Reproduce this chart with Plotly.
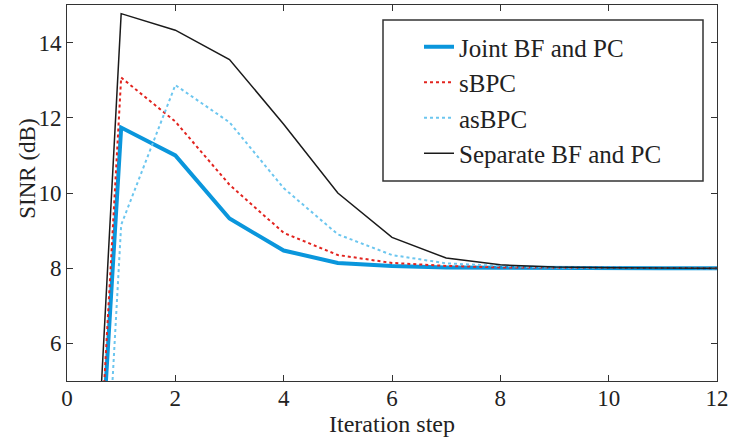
import plotly.graph_objects as go

iters = [0, 1, 2, 3, 4, 5, 6, 7, 8, 9, 10, 11, 12]
joint = [-12.2, 11.74, 11.0, 9.32, 8.47, 8.14, 8.06, 8.02, 8.01, 8.0, 8.0, 8.0, 8.0]
sbpc = [-12.9, 13.07, 11.9, 10.22, 8.94, 8.35, 8.14, 8.06, 8.02, 8.01, 8.0, 8.0, 8.0]
asbpc = [-16.8, 9.15, 12.87, 11.88, 10.13, 8.9, 8.35, 8.13, 8.06, 8.02, 8.01, 8.0, 8.0]
separate = [-12.3, 14.77, 14.33, 13.55, 11.83, 10.0, 8.82, 8.27, 8.09, 8.03, 8.01, 8.0, 8.0]

names = ["Joint BF and PC", "sBPC", "asBPC", "Separate BF and PC"]
x_ticks = [0, 2, 4, 6, 8, 10, 12]
y_ticks = [6, 8, 10, 12, 14]

FONT = "Liberation Serif, Times New Roman, serif"

fig = go.Figure()
styles = [
    (joint, dict(color="#0A96DC", width=4, dash="solid")),
    (sbpc, dict(color="#E2241F", width=2, dash="dot")),
    (asbpc, dict(color="#6CC6EF", width=2, dash="dot")),
    (separate, dict(color="#1A1A1A", width=1.5, dash="solid")),
]
for i, (ys, ln) in enumerate(styles):
    fig.add_trace(go.Scatter(x=iters, y=ys, mode="lines", name=names[i],
                             line=ln, legendgroup=f"g{i}"))

axis_common = dict(showline=True, linecolor="#333333", linewidth=1, mirror="ticks",
                   ticks="inside", ticklen=6, tickcolor="#333333", showgrid=False,
                   zeroline=False, ticklabelposition="outside", automargin=False,
                   tickfont=dict(family=FONT, size=23, color="#222222"))

fig.update_xaxes(range=[0, 12], tickvals=x_ticks, **axis_common, ticklabelstandoff=-4,
                 title=dict(text="Iteration step", font=dict(family=FONT, size=24, color="#222222"),
                            standoff=0))
fig.update_yaxes(range=[5, 15], tickvals=y_ticks, **axis_common, ticklabelstandoff=0)

fig.add_annotation(text="SINR (dB)", textangle=-90, xref="paper", yref="paper",
                   x=-0.062, y=(381 - 169) / 376, xanchor="center", yanchor="middle",
                   showarrow=False, font=dict(family=FONT, size=23, color="#222222"))

fig.add_shape(type="rect", xref="paper", yref="paper",
              x0=(383 - 67) / 650, x1=(703 - 67) / 650,
              y0=(381 - 181) / 376, y1=(381 - 20) / 376,
              line=dict(color="#333333", width=1.5), fillcolor="white", layer="above")

fig.update_layout(
    width=730, height=441,
    font=dict(family=FONT),
    margin=dict(l=67, r=13, t=5, b=60, autoexpand=False),
    paper_bgcolor="white", plot_bgcolor="white",
    showlegend=True,
    legend=dict(x=(419 - 67) / 650, y=(381 - 24) / 376, xanchor="left", yanchor="top",
                bgcolor="rgba(0,0,0,0)", borderwidth=0, tracegroupgap=0,
                font=dict(family=FONT, size=25, color="#222222")),
)

fig.write_html("out.html")
